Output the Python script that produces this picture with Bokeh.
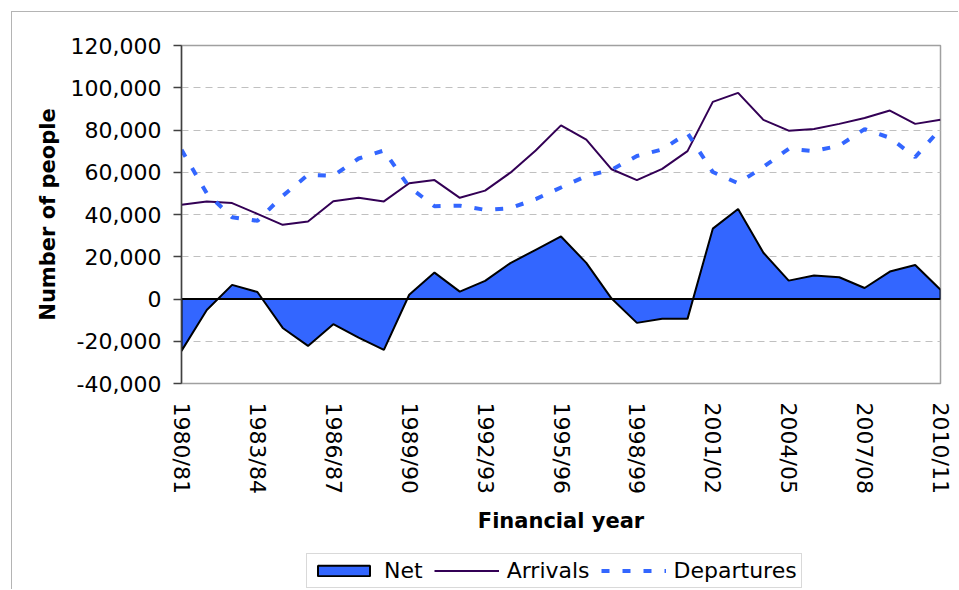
from bokeh.plotting import figure
from bokeh.layouts import column
from bokeh.models import (Range1d, FixedTicker, NumeralTickFormatter, Legend, LegendItem)
from bokeh.embed import file_html
from bokeh.resources import INLINE

years = ["1980/81", "1981/82", "1982/83", "1983/84", "1984/85", "1985/86", "1986/87",
         "1987/88", "1988/89", "1989/90", "1990/91", "1991/92", "1992/93", "1993/94",
         "1994/95", "1995/96", "1996/97", "1997/98", "1998/99", "1999/00", "2000/01",
         "2001/02", "2002/03", "2003/04", "2004/05", "2005/06", "2006/07", "2007/08",
         "2008/09", "2009/10", "2010/11"]

arrivals = [44600, 46200, 45400, 40300, 35100, 36700, 46300, 47900, 46200, 54800,
            56300, 47900, 51300, 59800, 70300, 82200, 75400, 61400, 56300, 61600,
            70000, 93300, 97600, 84800, 79700, 80500, 82900, 85700, 89200, 82900, 84800]

departures = [70600, 50000, 38700, 37000, 48800, 58800, 58300, 66500, 70300, 53000,
              43900, 44200, 42200, 43000, 47300, 52800, 58200, 61200, 67700, 70800,
              78500, 60100, 54800, 62500, 71100, 70000, 72600, 80400, 76300, 67200, 80500]

net = [-24600, -5200, 6700, 3300, -13700, -22200, -11900, -18300, -24100, 2000,
       12500, 3500, 8600, 17000, 23300, 29600, 17100, 200, -11300, -9400,
       -9400, 33300, 42600, 21900, 8700, 11100, 10300, 5200, 13000, 16100, 4400]

series_names = ["Net", "Arrivals", "Departures"]
y_ticks = [-40000, -20000, 0, 20000, 40000, 60000, 80000, 100000, 120000]
label_step = 3

FONT = "DejaVu Sans"
NET_FILL = "#3366FF"
ARR_COLOR = "#330055"
DEP_COLOR = "#3366FF"
NAN = float("nan")

x = list(range(len(years)))

p = figure(width=946, height=528, output_backend="svg", toolbar_location=None,
           x_range=Range1d(0, len(years) - 1), y_range=Range1d(y_ticks[0], y_ticks[-1]),
           min_border_left=169, min_border_right=18, min_border_top=33, min_border_bottom=157)

# Net area
px = [x[0]] + x + [x[-1]]
py = [0] + net + [0]
p.patch(px, py, fill_color=NET_FILL, line_color="black", line_width=2)
p.line(x, arrivals, line_color=ARR_COLOR, line_width=2)
p.line(x, departures, line_color=DEP_COLOR, line_width=4, line_dash="8 13")

# Axes
tick_pos = list(range(0, len(years), label_step))
xa = p.xaxis[0]
xa.ticker = FixedTicker(ticks=tick_pos)
xa.major_label_overrides = {i: years[i] for i in tick_pos}
xa.major_label_orientation = "vertical"
xa.major_tick_line_color = None
xa.major_tick_out = 0
xa.major_tick_in = 0
xa.minor_tick_line_color = None
xa.axis_line_color = None
xa.major_label_standoff = 19
xa.major_label_text_font = FONT
xa.major_label_text_font_size = "22px"
xa.major_label_text_color = "black"
xa.axis_label = "Financial year"
xa.axis_label_text_font = FONT
xa.axis_label_text_font_size = "21px"
xa.axis_label_text_font_style = "bold"
xa.axis_label_text_color = "black"
xa.axis_label_standoff = 12

ya = p.yaxis[0]
ya.ticker = FixedTicker(ticks=y_ticks)
ya.formatter = NumeralTickFormatter(format="0,0")
ya.major_tick_in = 0
ya.major_tick_out = 8
ya.major_tick_line_color = "#404040"
ya.major_tick_line_width = 1.5
ya.minor_tick_line_color = None
ya.axis_line_color = "#404040"
ya.axis_line_width = 1.5
ya.major_label_standoff = 12
ya.major_label_text_font = FONT
ya.major_label_text_font_size = "22px"
ya.major_label_text_color = "black"
ya.axis_label = "Number of people"
ya.axis_label_text_font = FONT
ya.axis_label_text_font_size = "21px"
ya.axis_label_text_font_style = "bold"
ya.axis_label_text_color = "black"
ya.axis_label_standoff = 8

p.xgrid.visible = False
p.ygrid.grid_line_color = "#c0c0c0"
p.ygrid.grid_line_dash = "7 5"
p.ygrid.grid_line_width = 1

p.outline_line_color = "#a0a0a0"
p.outline_line_width = 1.5

# Legend strip below the chart (same styles as the series; renderers hold no visible data)
pl = figure(width=946, height=49, output_backend="svg", toolbar_location=None,
            x_axis_type=None, y_axis_type=None,
            x_range=Range1d(0, 1), y_range=Range1d(0, 1),
            min_border_left=0, min_border_right=0, min_border_top=0, min_border_bottom=0)
pl.xgrid.visible = False
pl.ygrid.visible = False
pl.outline_line_color = None
l_net = pl.patch([NAN], [NAN], fill_color=NET_FILL, line_color="black", line_width=2)
l_arr = pl.line([NAN], [NAN], line_color=ARR_COLOR, line_width=2)
l_dep = pl.line([NAN], [NAN], line_color=DEP_COLOR, line_width=4, line_dash="8 13")

legend = Legend(items=[LegendItem(label=series_names[0], renderers=[l_net]),
                       LegendItem(label=series_names[1], renderers=[l_arr]),
                       LegendItem(label=series_names[2], renderers=[l_dep])],
                orientation="horizontal", location=(125, 1),
                glyph_width=65, glyph_height=13, label_standoff=8, spacing=11,
                padding=4, margin=0,
                border_line_color="#b4b4b4", border_line_width=1,
                background_fill_color="white", background_fill_alpha=1,
                label_text_font=FONT, label_text_font_size="22px",
                label_text_color="black")
pl.add_layout(legend, "center")

layout = column(p, pl, spacing=0,
                styles={"margin-left": "11px", "margin-top": "11px",
                        "border-left": "1px solid #b4b4b4", "border-top": "1px solid #b4b4b4"})
open("out.html", "w").write(file_html(layout, INLINE))
